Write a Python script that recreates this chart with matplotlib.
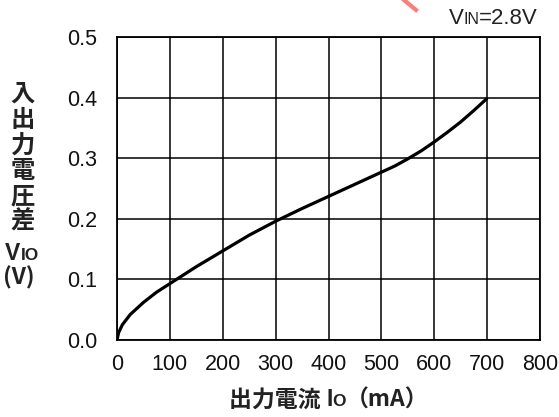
import matplotlib.pyplot as plt
from matplotlib.lines import Line2D
from matplotlib.offsetbox import TextArea, HPacker, AnnotationBbox

plt.rcParams['font.family'] = ['Liberation Sans', 'Noto Sans CJK JP', 'DejaVu Sans']

# 出力電流 Io (mA) と 入出力電圧差 VIO (V)
io_ma = [0, 3, 10, 25, 50, 75, 100, 125, 150, 175, 200, 250, 300, 350, 400, 450,
         500, 525, 550, 575, 600, 625, 650, 675, 700]
vio_v = [0.0, 0.012, 0.025, 0.042, 0.062, 0.079, 0.093, 0.107, 0.121, 0.134, 0.147,
         0.173, 0.196, 0.217, 0.237, 0.257, 0.277, 0.287, 0.299, 0.312, 0.327,
         0.343, 0.360, 0.379, 0.399]

x_ticks = [0, 100, 200, 300, 400, 500, 600, 700, 800]
y_ticks = [0.0, 0.1, 0.2, 0.3, 0.4, 0.5]
y_labels = ["0.0", "0.1", "0.2", "0.3", "0.4", "0.5"]

fig = plt.figure(figsize=(5.59, 4.17), dpi=100)
ax = fig.add_axes([0.2093, 0.1847, 0.757, 0.7266])

ax.plot(io_ma, vio_v, color='black', linewidth=2.3, solid_capstyle='butt',
        solid_joinstyle='round')

ax.set_xlim(0, 800)
ax.set_ylim(0, 0.5)
ax.set_xticks(x_ticks)
ax.set_yticks(y_ticks)
ax.set_yticklabels(y_labels)
ax.tick_params(length=0, labelsize=15.5, colors='#111111')
ax.tick_params(axis='x', pad=10)
ax.tick_params(axis='y', pad=14)
ax.grid(True, color='black', linewidth=1.1)
for s in ax.spines.values():
    s.set_linewidth(1.3)
    s.set_color('black')

jp = ['Noto Sans CJK JP', 'DejaVu Sans']
lat = ['Liberation Sans', 'DejaVu Sans']

# 縦書きの軸ラベル
ylab_chars = ["入", "出", "力", "電", "圧", "差"]
for i, ch in enumerate(ylab_chars):
    fig.text(23 / 559, 1 - (94 + i * 25.6) / 417, ch, family=jp,
             fontweight='bold', fontsize=17.5, ha='center', va='center', color='#222222')

def mixed(parts):
    boxes = [TextArea(t, textprops=dict(fontsize=s, fontweight=w, family=f, color='#222222'))
             for t, s, w, f in parts]
    return HPacker(children=boxes, align='baseline', pad=0, sep=0)

vio = mixed([("V", 16.5, 'bold', lat), ("IO", 12.5, 'bold', lat)])
fig.add_artist(AnnotationBbox(vio, (22 / 559, 1 - 254 / 417), xycoords='figure fraction',
                              frameon=False, box_alignment=(0.5, 0.5)))
fig.text(19 / 559, 1 - 278 / 417, "(V)", family=jp, fontweight='bold', fontsize=16.5,
         ha='center', va='center', color='#222222')

# 横軸ラベル
xlab = mixed([("出力電流 ", 16.5, 'bold', jp), ("I", 16.5, 'bold', lat), ("O", 12.5, 'bold', lat),
              ("（mA）", 16.5, 'bold', jp)])
fig.add_artist(AnnotationBbox(xlab, (329 / 559, 1 - 400 / 417), xycoords='figure fraction',
                              frameon=False, box_alignment=(0.5, 0.5)))

# 入力電圧条件
vin = mixed([("V", 16, 'normal', lat), ("IN", 11.5, 'normal', lat), ("=2.8V", 16, 'normal', lat)])
fig.add_artist(AnnotationBbox(vin, (538 / 559, 1 - 19 / 417), xycoords='figure fraction',
                              frameon=False, box_alignment=(1.0, 0.5)))

fig.add_artist(Line2D([404 / 559, 416 / 559], [1.0, 1 - 10 / 417], transform=fig.transFigure,
                      color='#ff7b7b', linewidth=3))

fig.savefig('out.png', dpi=100)
